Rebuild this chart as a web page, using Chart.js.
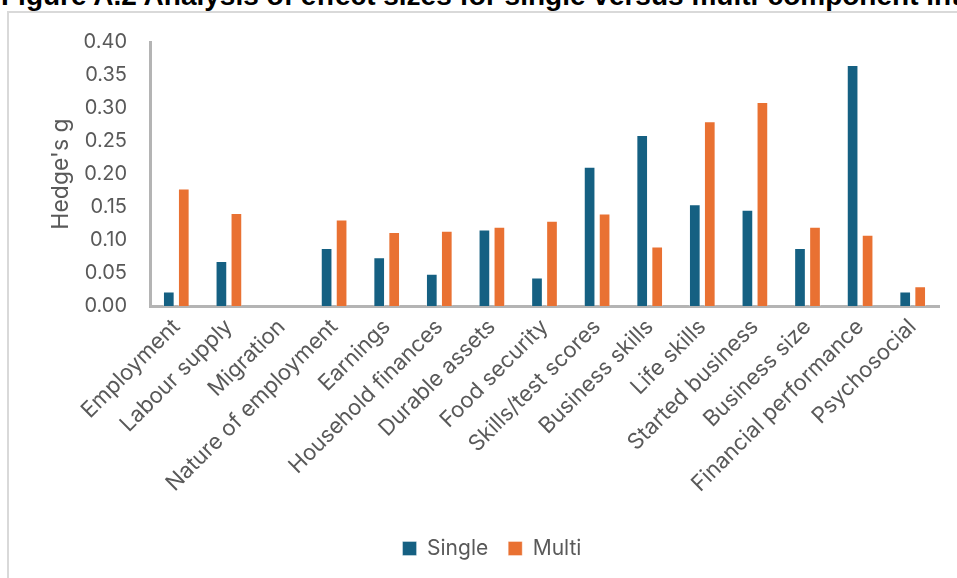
<!DOCTYPE html>
<html>
<head>
<meta charset="UTF-8">
<title>Single vs multi-component effect sizes</title>
<script src="https://cdn.jsdelivr.net/npm/chart.js"></script>
<style>
    body, html {
        margin: 0;
        padding: 0;
        width: 957px;
        height: 578px;
        overflow: hidden;
        background: #ffffff;
        position: relative;
    }
    .fig-title {
        position: absolute;
        left: 1px;
        top: -18px;
        font-family: 'Liberation Sans', Arial, sans-serif;
        font-weight: bold;
        font-size: 28px;
        line-height: 28px;
        white-space: nowrap;
        color: #000;
    }
    .chart-box {
        position: absolute;
        left: 7px;
        top: 11px;
        width: 966px;
        height: 600px;
        border: 2px solid #d9d9d9;
        background: #fff;
    }
    #effectChart {
        position: absolute;
        left: 0;
        top: -6px;
    }
</style>
</head>
<body>
<div class="fig-title">Figure A.2 Analysis of effect sizes for single versus multi-component interventions</div>
<div class="chart-box">
    <canvas id="effectChart" width="966" height="572"></canvas>
</div>

<script>
    const categories = ['Employment', 'Labour supply', 'Migration', 'Nature of employment', 'Earnings',
        'Household finances', 'Durable assets', 'Food security', 'Skills/test scores', 'Business skills',
        'Life skills', 'Started business', 'Business size', 'Financial performance', 'Psychosocial'];
    const singleValues = [0.022, 0.068, -0.002, 0.088, 0.074, 0.049, 0.116, 0.043, 0.211, 0.259, 0.154, 0.146, 0.088, 0.365, 0.022];
    const multiValues  = [0.178, 0.141, -0.002, 0.131, 0.112, 0.114, 0.120, 0.129, 0.140, 0.090, 0.280, 0.309, 0.120, 0.108, 0.030];
    const yTickLabels = ['0.00', '0.05', '0.10', '0.15', '0.20', '0.25', '0.30', '0.35', '0.40'];

    const textColor = '#595959';
    const axisColor = '#b4b4b4';
    const fontFamily = 'Inter, Roboto, sans-serif';

    const ctx = document.getElementById('effectChart').getContext('2d');
    const chart = new Chart(ctx, {
        type: 'bar',
        data: {
            labels: categories,
            datasets: [
                {
                    label: 'Single',
                    data: singleValues,
                    backgroundColor: '#156082',
                    borderColor: 'rgba(255,255,255,0.35)',
                    borderWidth: 1,
                    categoryPercentage: 0.57,
                    barPercentage: 0.78
                },
                {
                    label: 'Multi',
                    data: multiValues,
                    backgroundColor: '#E97132',
                    borderColor: 'rgba(255,255,255,0.35)',
                    borderWidth: 1,
                    categoryPercentage: 0.57,
                    barPercentage: 0.78
                }
            ]
        },
        options: {
            responsive: false,
            animation: false,
            layout: {
                // left padding balances the right one so the legend sits centred in the box
                padding: { left: 36, right: 36, top: 15, bottom: 10 }
            },
            plugins: {
                tooltip: { enabled: false },
                legend: {
                    position: 'bottom',
                    labels: {
                        boxWidth: 14,
                        boxHeight: 14,
                        padding: 20,
                        color: textColor,
                        font: { family: fontFamily, size: 21 }
                    }
                }
            },
            scales: {
                x: {
                    grid: { display: false, drawTicks: false },
                    border: { display: true, color: axisColor, width: 3 },
                    ticks: {
                        autoSkip: false,
                        minRotation: 45,
                        maxRotation: 45,
                        padding: 8,
                        color: textColor,
                        font: { family: fontFamily, size: 22 }
                    },
                    afterFit: function (scale) { scale.height = 212; }
                },
                y: {
                    min: 0,
                    max: 0.4,
                    grid: { display: false, drawTicks: false },
                    border: { display: true, color: axisColor, width: 3 },
                    ticks: {
                        stepSize: 0.05,
                        padding: 23,
                        color: textColor,
                        font: { family: fontFamily, size: 20 },
                        callback: function (value, index) { return yTickLabels[index]; }
                    },
                    title: {
                        display: true,
                        text: "Hedge's g",
                        color: textColor,
                        font: { family: fontFamily, size: 23 },
                        padding: { top: 2, bottom: 0 }
                    },
                    afterFit: function (scale) { scale.width = 105; }
                }
            }
        }
    });
</script>
</body>
</html>
